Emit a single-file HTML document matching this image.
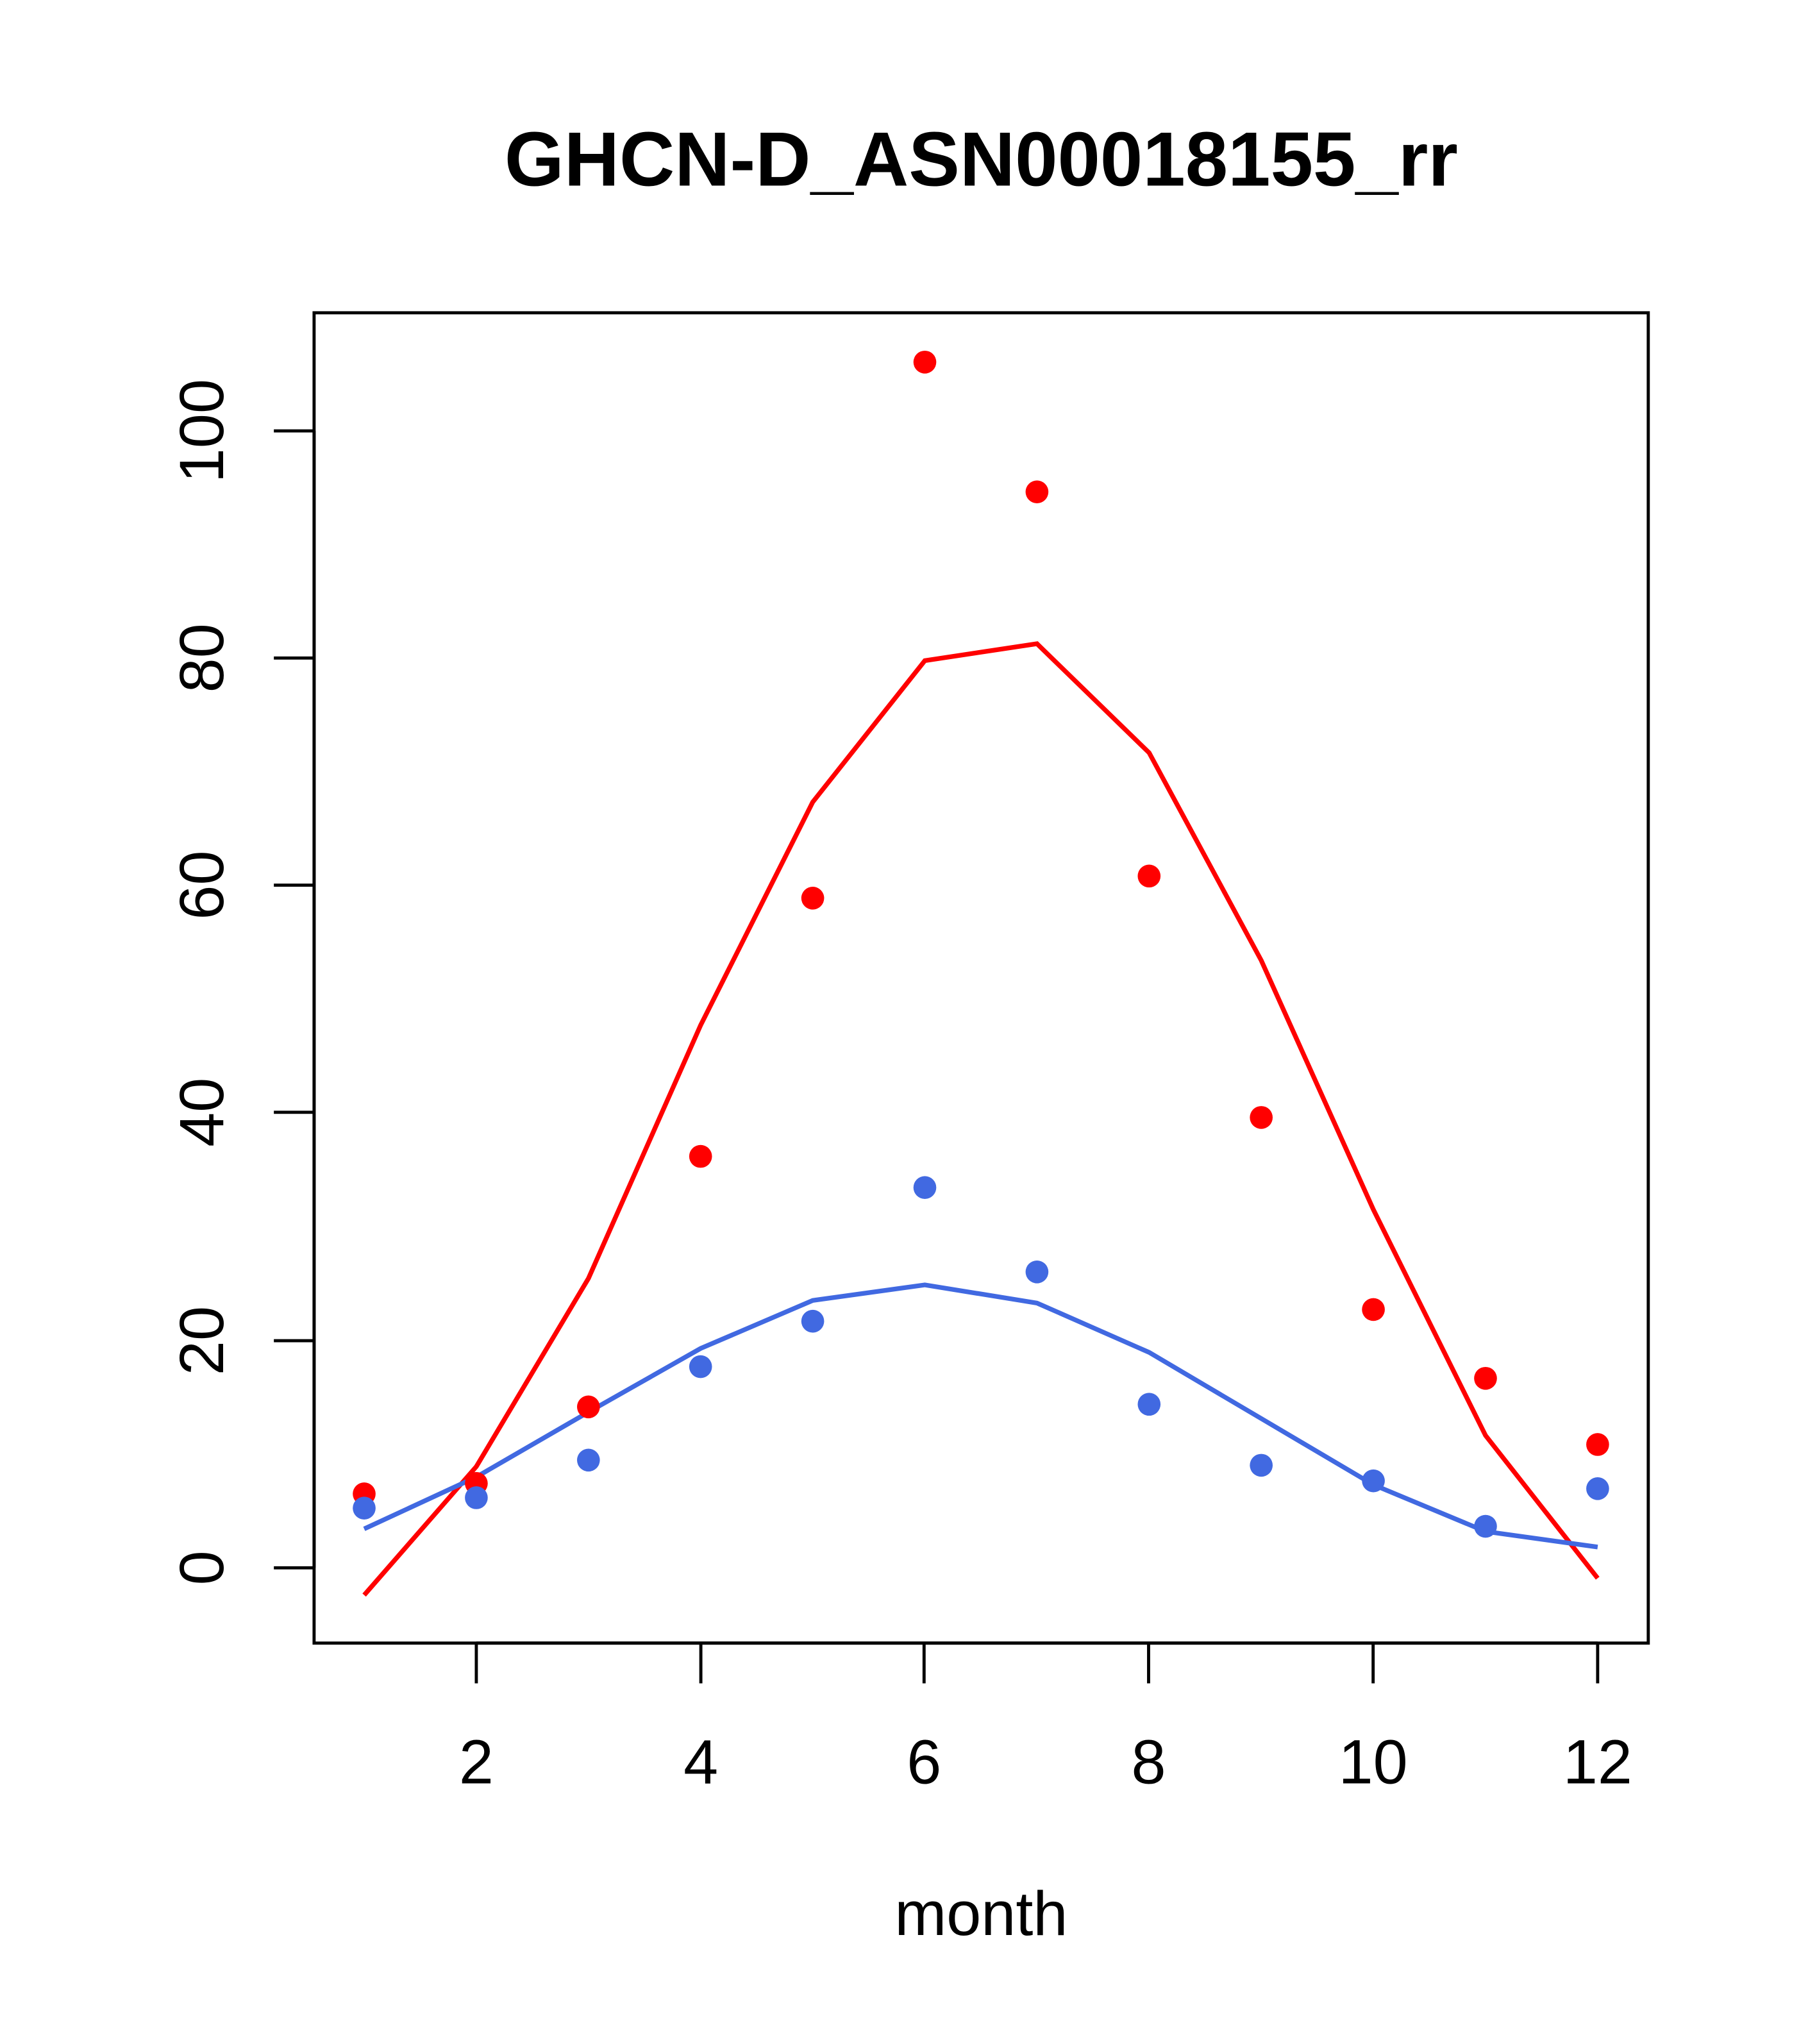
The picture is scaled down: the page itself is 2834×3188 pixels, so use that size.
<!DOCTYPE html>
<html><head><style>html,body{margin:0;padding:0;background:#fff}svg{display:block}</style></head>
<body>
<svg width="2834" height="3188" viewBox="0 0 1400 1574.9" xmlns="http://www.w3.org/2000/svg" font-family="Liberation Sans, sans-serif">
<rect width="1400" height="1575" fill="#fff"/>
<text x="756" y="143" font-size="59" font-weight="bold" text-anchor="middle">GHCN-D_ASN00018155_rr</text>
<rect x="242" y="241" width="1028" height="1025" fill="none" stroke="#000" stroke-width="2.4"/>
<g stroke="#000" stroke-width="2.4">
<line x1="367" y1="1266" x2="1231" y2="1266"/>
<line x1="367" y1="1266" x2="367" y2="1297"/><line x1="540" y1="1266" x2="540" y2="1297"/><line x1="712" y1="1266" x2="712" y2="1297"/><line x1="885" y1="1266" x2="885" y2="1297"/><line x1="1058" y1="1266" x2="1058" y2="1297"/><line x1="1231" y1="1266" x2="1231" y2="1297"/>
<line x1="242" y1="1208" x2="242" y2="332"/>
<line x1="242" y1="1208" x2="211" y2="1208"/><line x1="242" y1="1033" x2="211" y2="1033"/><line x1="242" y1="857" x2="211" y2="857"/><line x1="242" y1="682" x2="211" y2="682"/><line x1="242" y1="507" x2="211" y2="507"/><line x1="242" y1="332" x2="211" y2="332"/>
</g>
<g font-size="48" text-anchor="middle">
<text x="367" y="1374">2</text><text x="540" y="1374">4</text><text x="712" y="1374">6</text><text x="885" y="1374">8</text><text x="1058" y="1374">10</text><text x="1231" y="1374">12</text>
<text x="756" y="1491">month</text>
<text transform="translate(172,1208) rotate(-90)">0</text>
<text transform="translate(172,1033) rotate(-90)">20</text>
<text transform="translate(172,857) rotate(-90)">40</text>
<text transform="translate(172,682) rotate(-90)">60</text>
<text transform="translate(172,507) rotate(-90)">80</text>
<text transform="translate(172,332) rotate(-90)">100</text>
</g>
<polyline fill="none" stroke="#ff0000" stroke-width="3.6" points="280.6,1229 367,1130 453.4,985 539.8,790 626.2,618 712.6,509 799,496 885.4,580 971.8,740 1058.2,932 1144.6,1106 1231,1216"/>
<polyline fill="none" stroke="#4169e1" stroke-width="3.6" points="280.6,1178 367,1138 453.4,1088 539.8,1039 626.2,1002 712.6,990 799,1004 885.4,1042 971.8,1093 1058.2,1144 1144.6,1180 1231,1192"/>
<g fill="#ff0000">
<circle cx="280.6" cy="1151" r="8.8"/><circle cx="367" cy="1143" r="8.8"/><circle cx="453.4" cy="1084" r="8.8"/><circle cx="539.8" cy="891" r="8.8"/><circle cx="626.2" cy="692" r="8.8"/><circle cx="712.6" cy="279" r="8.8"/><circle cx="799" cy="379" r="8.8"/><circle cx="885.4" cy="675" r="8.8"/><circle cx="971.8" cy="861" r="8.8"/><circle cx="1058.2" cy="1009" r="8.8"/><circle cx="1144.6" cy="1062" r="8.8"/><circle cx="1231" cy="1113" r="8.8"/>
</g>
<g fill="#4169e1">
<circle cx="280.6" cy="1162" r="8.8"/><circle cx="367" cy="1154" r="8.8"/><circle cx="453.4" cy="1125" r="8.8"/><circle cx="539.8" cy="1053" r="8.8"/><circle cx="626.2" cy="1018" r="8.8"/><circle cx="712.6" cy="915" r="8.8"/><circle cx="799" cy="980" r="8.8"/><circle cx="885.4" cy="1082" r="8.8"/><circle cx="971.8" cy="1129" r="8.8"/><circle cx="1058.2" cy="1141" r="8.8"/><circle cx="1144.6" cy="1176" r="8.8"/><circle cx="1231" cy="1147" r="8.8"/>
</g>
</svg>
</body></html>
